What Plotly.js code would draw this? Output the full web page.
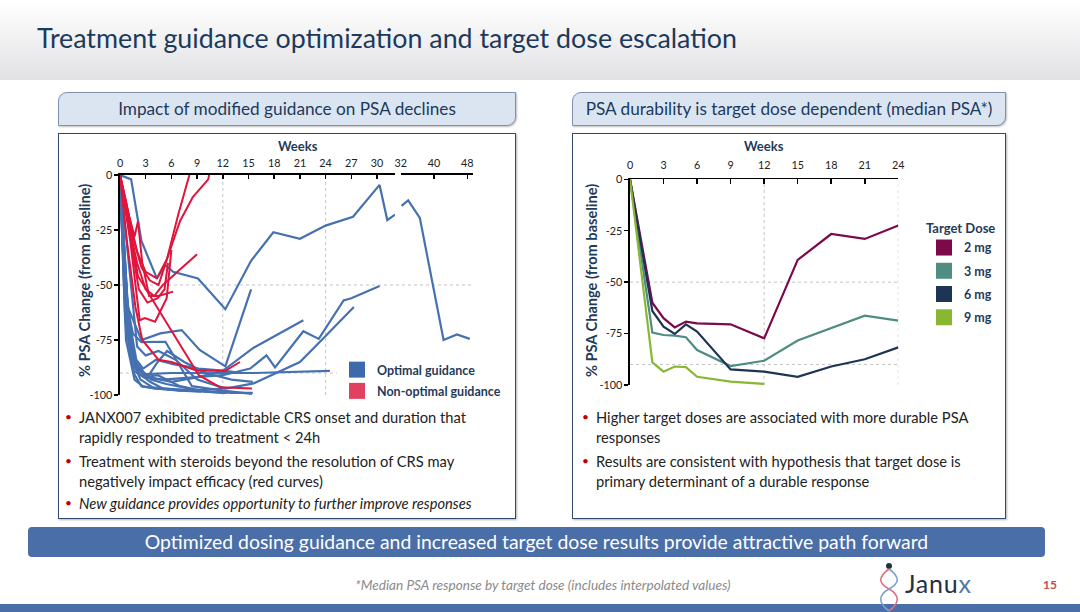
<!DOCTYPE html>
<html><head><meta charset="utf-8">
<script src="https://cdn.plot.ly/plotly-3.0.1.min.js"></script>
<style>
body{margin:0;width:1080px;height:612px;overflow:hidden;background:#fff;font-family:Lato,"Open Sans",sans-serif;position:relative}
.abs{position:absolute}
#hdr{left:0;top:0;width:1080px;height:80px;background:linear-gradient(#ffffff,#e2e2e5)}
#title{left:37px;top:22px;font-size:26.8px;color:#1b3a5c;white-space:nowrap}
.sub{background:#dbe5f1;border:1px solid #7f92ad;border-radius:9px 0 9px 0;height:32px;line-height:32px;text-align:center;font-size:17.2px;color:#1b3a5c;white-space:nowrap;box-shadow:1px 1px 2px rgba(0,0,0,0.25)}
.box{border:1px solid #2e4a6e;background:#fff;box-shadow:1px 1px 2px rgba(0,0,0,0.3)}
.bul{font-size:14.7px;line-height:20px;color:#222;white-space:nowrap}
.bul span.d{color:#c00000;position:absolute;left:-14px;font-size:12px}
#banner{left:28px;top:527px;width:1017px;height:30px;line-height:30px;background:#4a6ea8;border-radius:4px;color:#fff;text-align:center;font-size:19.4px;white-space:nowrap}
#note{left:0;width:1086px;top:577px;text-align:center;font-style:italic;font-size:13.6px;color:#8a8a8a}
#pg{left:1043px;top:577px;font-size:12px;color:#c0504d;font-weight:bold}
#bot{left:0;top:604px;width:1080px;height:8px;background:#4a6ea8}
#logo{left:905px;top:568px;font-size:25px;color:#24323f;letter-spacing:0.8px}
#chart{left:0;top:0;width:1080px;height:612px;z-index:5}
</style></head>
<body>
<div id="hdr" class="abs"></div>
<div id="title" class="abs">Treatment guidance optimization and target dose escalation</div>
<div class="abs sub" style="left:58px;top:92px;width:456px">Impact of modified guidance on PSA declines</div>
<div class="abs sub" style="left:572px;top:92px;width:432px">PSA durability is target dose dependent (median PSA*)</div>
<div class="abs box" style="left:58px;top:133px;width:456px;height:384px"></div>
<div class="abs box" style="left:572px;top:133px;width:432px;height:384px"></div>

<div class="abs bul" style="left:79px;top:407px"><span class="d">•</span>JANX007 exhibited predictable CRS onset and duration that<br>rapidly responded to treatment &lt; 24h</div>
<div class="abs bul" style="left:79px;top:451px"><span class="d">•</span>Treatment with steroids beyond the resolution of CRS may<br>negatively impact efficacy (red curves)</div>
<div class="abs bul" style="left:79px;top:493px;font-style:italic"><span class="d">•</span>New guidance provides opportunity to further improve responses</div>

<div class="abs bul" style="left:596px;top:407px"><span class="d">•</span>Higher target doses are associated with more durable PSA<br>responses</div>
<div class="abs bul" style="left:596px;top:451px"><span class="d">•</span>Results are consistent with hypothesis that target dose is<br>primary determinant of a durable response</div>

<div id="banner" class="abs">Optimized dosing guidance and increased target dose results provide attractive path forward</div>
<div id="note" class="abs">*Median PSA response by target dose (includes interpolated values)</div>
<div id="bot" class="abs"></div>
<svg class="abs" style="left:874px;top:561px" width="30" height="51" viewBox="0 0 30 51">
  <circle cx="15" cy="5" r="3" fill="#24323f"/>
  <path d="M15 8 C4 16,4 22,15 28 C26 34,26 42,15 50" stroke="#e07080" stroke-width="1.6" fill="none"/>
  <path d="M15 8 C26 16,26 22,15 28 C4 34,4 42,15 50" stroke="#7da0cc" stroke-width="1.6" fill="none"/>
</svg>
<div id="logo" class="abs">Janu<span style="color:#5577aa">x</span></div>
<div id="pg" class="abs">15</div>
<div id="chart" class="abs"></div>

<script>
// ---------- Left chart: individual patient PSA change (%), weeks ----------
const optimalWeeks = [
  [0,1.3,2.5,4.3,5.3,6.2,9.1,12.3,15.3,17.9,21,24,27.2,30.3,31.2,32.1],
  [0,0.8,1.8,3,5,8,12,15.2,17.1,18.1,21.4,23.2,26.1,27,30.3],
  [0,0.7,1.6,2.5,4,7,10,12.5,15.6,18.3,21,23.8,27.3],
  [0,0.9,2,3.5,6,9,12,15.6,21.4],
  [0,0.9,2.5,4.7,7.2,9.3,12.3,15.3],
  [0,0.8,1.8,3,6,9,12,15.6,24.5],
  [0,0.6,1.5,2.5,5.3,8.4,12,15.4],
  [0,0.7,1.7,2.7,5,9,13,15.5],
  [0,0.8,1.5,2.4,4,6,9,12.2],
  [0,1,2,3,4.5,6.5,9,12.3],
  [0,0.7,1.6,2.8,4.4,7,10,12.5],
  [0,0.5,1.3,2.2,3.5,5,7,9.5],
  [0,1.1,2,3.2,4.4,5.5,7.5,10,13,15.5],
  [0,0.6,1.4,2.6,3.6,5.4,8],
  [0,0.9,1.9,2.7,4.2,6.2,9.2,12.3,14.2]
];
const optimalPSA = [
  [0,-2,-30,-47,-41,-44,-47,-61,-39,-26,-29,-23,-19,-4.5,-20.5,-18],
  [0,-55,-86,-92,-93,-92,-91,-88,-82,-87.5,-71,-74.5,-57,-56,-50.5],
  [0,-60,-90,-96,-97,-98,-97.5,-97,-94.7,-90,-85,-74,-60],
  [0,-70,-88,-92,-94,-92,-89,-78.5,-66],
  [0,-60,-75,-72,-70.5,-79.5,-87,-52],
  [0,-62,-88,-90.5,-90,-90,-90,-90,-89],
  [0,-55,-72,-76,-75.8,-96,-98,-99.5],
  [0,-75,-93,-96.2,-97,-98,-99,-99],
  [0,-65,-85,-93,-97,-97.5,-98,-99],
  [0,-40,-78,-82,-80,-84,-93,-97],
  [0,-70,-89,-92,-91,-96,-98.5,-99],
  [0,-50,-80,-90,-94,-97,-98,-98.5],
  [0,-72,-86,-92,-85,-80,-85,-90,-93,-94],
  [0,-66,-83,-89,-93,-95,-97],
  [0,-62,-84,-88,-84,-86,-88,-89,-90]
];
// continuation of the first optimal patient after the axis break (weeks 32-48)
const lateWeeks = [32.2,33.8,36.6,42.3,45.5,48.6];
const latePSA = [-14,-11.5,-19.5,-75,-72.5,-74.5];

const nonOptimalWeeks = [
  [0,0.7,1.5,2.5,3.5,4.5,5.5,6.8,8.1],
  [0,1,2,3,4.3,5.5,7,8.5,10.3,10.4],
  [0,1,2,3,4,5,7,9],
  [0,1.2,2.3,2.9,4.1,5.45,6],
  [0,1,2.1,9.2,11.7,15.4],
  [0,0.8,1.8,2.6,4.5,6,9,12.3,14],
  [0,1,1.7,2.1,2.6,3.4,4.5,6.2],
  [0,1.2,2.2,3.2,4.4,5.2,5.6]
];
const nonOptimalPSA = [
  [0,-12,-28,-42,-48,-50,-38,-18,0],
  [0,-18,-35,-44,-47,-38,-21,-10,-2,0],
  [0,-22,-40,-52,-55,-50,-43,-36],
  [0,-30,-66,-65,-66.7,-56,-34],
  [0,-20,-46,-91,-96.5,-97],
  [0,-30,-60,-75,-84,-85,-89,-89,-85],
  [0,-18,-28,-21,-40,-55,-55,-53],
  [0,-28,-52,-58,-56,-52,-40]
];
const leftTicksA = [0,3,6,9,12,15,18,21,24,27,30];
const leftTicksB = [32,40,48];
const psaTicks = [0,-25,-50,-75,-100];
const psaTickText = ['0','-25','-50','-75','-100'];

// ---------- Right chart: median PSA by target dose ----------
const doseWeeks = [0,2,3,4,5,6,9,12,15,18,21,24];
const psa2mg = [0,-60,-67.5,-72,-69.2,-70,-70.5,-77.3,-39.2,-26.6,-29,-22.5];
const psa3mg = [0,-74.5,-75.7,-76,-76.8,-83,-90.8,-88.2,-78.4,-72.4,-66.3,-68.7];
const psa6mg = [0,-64,-71.6,-75.2,-70.5,-74,-92.4,-93.5,-96,-91,-87.5,-81.7];
const weeks9mg = [0,2,3,4,5,6,9,12];
const psa9mg = [0,-89,-93.5,-91,-91.3,-96,-98.4,-99.5];
const doseNames = ['2 mg','3 mg','6 mg','9 mg'];
const rightTicks = [0,3,6,9,12,15,18,21,24];

const FONT = 'Lato, "Open Sans", sans-serif';
const NAVY = '#1f3b5a';
const BLUE = '#4671b1', RED = '#e0143c';
const doseColors = ['#7a0a4a','#4f8c82','#1f3354','#8ab733'];

const traces = [];
optimalWeeks.forEach((w,i)=>traces.push({x:w,y:optimalPSA[i],xaxis:'x',yaxis:'y',mode:'lines',
  line:{color:BLUE,width:2.2},showlegend:false,hoverinfo:'skip'}));
traces.push({x:lateWeeks,y:latePSA,xaxis:'x2',yaxis:'y',mode:'lines',line:{color:BLUE,width:2.2},showlegend:false});
nonOptimalWeeks.forEach((w,i)=>traces.push({x:w,y:nonOptimalPSA[i],xaxis:'x',yaxis:'y',mode:'lines',
  line:{color:RED,width:2},showlegend:false,hoverinfo:'skip'}));
// legend entries (squares)
traces.push({x:[null],y:[null],xaxis:'x',yaxis:'y',mode:'markers',name:'Optimal guidance',legend:'legend',legendgroup:'g1',
  marker:{symbol:'square',size:16,color:'#3f69ad',line:{width:0}}});
traces.push({x:[null],y:[null],xaxis:'x',yaxis:'y',mode:'markers',name:'Non-optimal guidance',legend:'legend',legendgroup:'g2',
  marker:{symbol:'square',size:16,color:'#e2405f',line:{width:0}}});

const doseSeries = [[doseWeeks,psa2mg],[doseWeeks,psa3mg],[doseWeeks,psa6mg],[weeks9mg,psa9mg]];
doseSeries.forEach((s,i)=>{
  traces.push({x:s[0],y:s[1],xaxis:'x3',yaxis:'y2',mode:'lines',line:{color:doseColors[i],width:2.2},showlegend:false});
});
doseNames.forEach((n,i)=>traces.push({x:[null],y:[null],xaxis:'x3',yaxis:'y2',mode:'markers',name:n,legend:'legend2',
  legendgroup:'d'+i,marker:{symbol:'square',size:16,color:doseColors[i],line:{width:0}}}));

const W=1080,H=612;
const px = v=>v/W, py = v=>1-v/H;
const tickFont = {family:FONT,size:10.8,color:'#222'};
const baseX = {side:'top',showline:true,linecolor:'#000',linewidth:1.6,showgrid:false,zeroline:false,
  tickfont:tickFont,tickcolor:'#000',tickwidth:1.5,tickmode:'array'};
const baseY = {showline:true,linecolor:'#000',linewidth:1.6,showgrid:false,zeroline:false,range:[-100,0],
  tickmode:'array',tickvals:psaTicks,ticktext:psaTickText,ticks:'outside',ticklen:4,tickwidth:1.5,tickcolor:'#000',
  tickfont:tickFont};

const dot = {color:'#c4c4c4',width:1,dash:'dot'};
const shapes = [
  {type:'line',xref:'paper',yref:'y',x0:px(120),x1:px(472),y0:-50,y1:-50,line:dot,layer:'below'},
  {type:'line',xref:'paper',yref:'y',x0:px(120),x1:px(472),y0:-90,y1:-90,line:dot,layer:'below'},
  {type:'line',xref:'x',yref:'y',x0:12,x1:12,y0:-100,y1:0,line:dot,layer:'below'},
  {type:'line',xref:'x',yref:'y',x0:24,x1:24,y0:-100,y1:0,line:dot,layer:'below'},
  {type:'line',xref:'x3',yref:'y2',x0:0,x1:24,y0:-50,y1:-50,line:dot,layer:'below'},
  {type:'line',xref:'x3',yref:'y2',x0:0,x1:24,y0:-90,y1:-90,line:dot,layer:'below'},
  {type:'line',xref:'x3',yref:'y2',x0:12,x1:12,y0:-100,y1:0,line:dot,layer:'below'},
  {type:'line',xref:'x3',yref:'y2',x0:24,x1:24,y0:-100,y1:0,line:dot,layer:'below'}
];
const titleFont = {family:FONT,size:13,color:NAVY,weight:'bold'};
const yTitleFont = {family:FONT,size:14.6,color:NAVY,weight:'bold'};

const layout = {
  width:W,height:H,margin:{l:0,r:0,t:0,b:0},paper_bgcolor:'rgba(0,0,0,0)',plot_bgcolor:'rgba(0,0,0,0)',
  font:{family:FONT},
  xaxis:Object.assign({},baseX,{domain:[px(120),px(395)],range:[0,32.1],anchor:'y',
    tickvals:leftTicksA.concat([32.1]),ticktext:leftTicksA.map(String).concat(['']),ticks:'inside',ticklen:4,ticklabelstandoff:2}),
  xaxis2:Object.assign({},baseX,{domain:[px(400.7),px(472.7)],range:[32,49.3],anchor:'y',
    tickvals:leftTicksB,ticktext:leftTicksB.map(String),ticks:'inside',ticklen:4,ticklabelstandoff:2}),
  yaxis:Object.assign({},baseY,{domain:[py(395),py(175)],anchor:'x'}),
  xaxis3:Object.assign({},baseX,{domain:[px(630),px(898.3)],range:[0,24],anchor:'y2',
    tickvals:rightTicks,ticktext:rightTicks.map(String),ticks:'inside',ticklen:5,ticklabelstandoff:4}),
  xaxis4:Object.assign({},baseX,{overlaying:'x3',anchor:'y2',range:[0,24],tickvals:rightTicks,
    showticklabels:false,ticks:'outside',ticklen:5,showline:false}),
  yaxis2:Object.assign({},baseY,{domain:[py(385),py(179.3)],anchor:'x3'}),
  shapes:shapes,
  annotations:[
    {xref:'paper',yref:'paper',x:px(298),y:py(146),text:'Weeks',showarrow:false,font:titleFont,xanchor:'center',yanchor:'middle'},
    {xref:'paper',yref:'paper',x:px(764),y:py(146),text:'Weeks',showarrow:false,font:titleFont,xanchor:'center',yanchor:'middle'},
    {xref:'paper',yref:'paper',x:px(85),y:py(281),text:'% PSA Change (from baseline)',textangle:-90,showarrow:false,font:yTitleFont,xanchor:'center',yanchor:'middle'},
    {xref:'paper',yref:'paper',x:px(592),y:py(281),text:'% PSA Change (from baseline)',textangle:-90,showarrow:false,font:yTitleFont,xanchor:'center',yanchor:'middle'}
  ],
  legend:{x:px(337),y:py(355),xanchor:'left',yanchor:'top',bgcolor:'#fff',borderwidth:0,tracegroupgap:2,
    font:{family:FONT,size:12.5,color:NAVY,weight:'bold'}},
  legend2:{x:px(924),y:py(216),xanchor:'left',yanchor:'top',bgcolor:'rgba(0,0,0,0)',tracegroupgap:4,
    title:{text:'Target Dose',side:'top',font:{family:FONT,size:13,color:NAVY,weight:'bold'}},
    font:{family:FONT,size:12.5,color:NAVY,weight:'bold'}},
  showlegend:true
};
Plotly.newPlot('chart',traces,layout,{staticPlot:true,displayModeBar:false});
</script>
</body></html>
